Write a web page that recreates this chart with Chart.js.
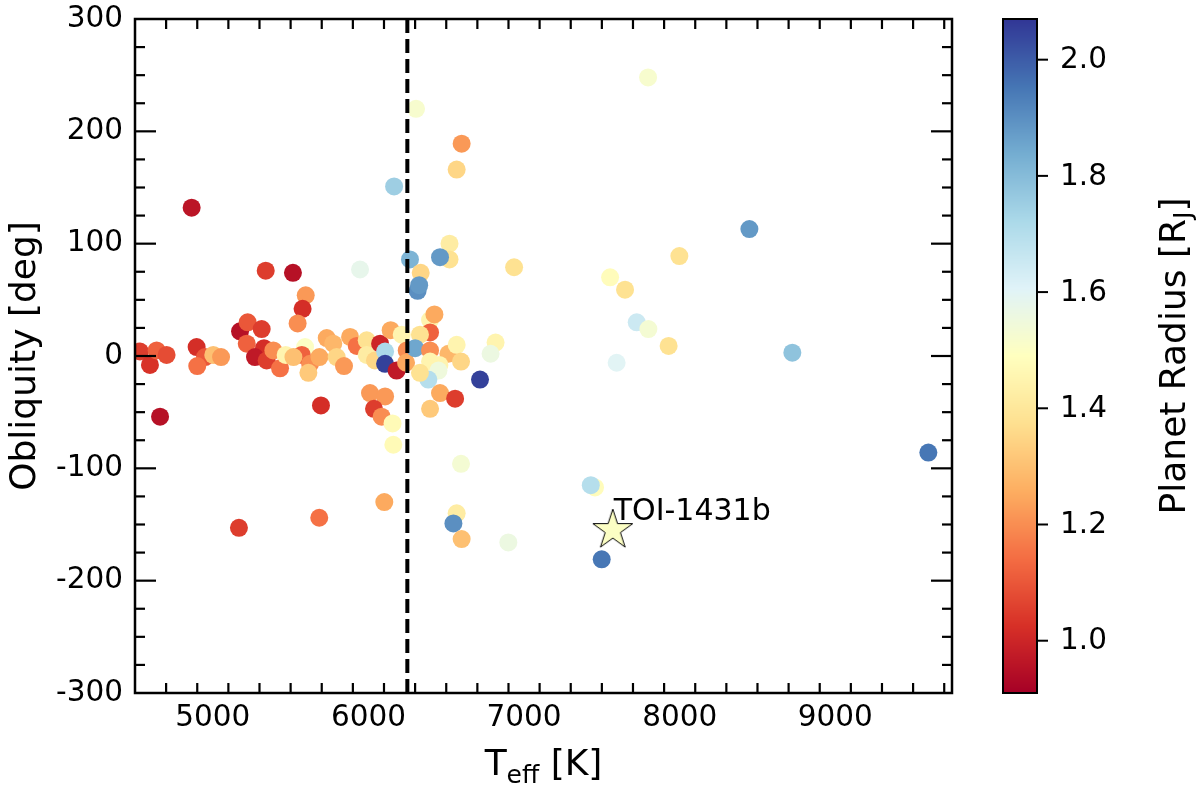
<!DOCTYPE html>
<html>
<head>
<meta charset="utf-8">
<script src="https://cdn.jsdelivr.net/npm/chart.js@4.4.0/dist/chart.umd.min.js"></script>
<style>
  html, body { margin: 0; padding: 0; background: #fff; }
  canvas { display: block; }
</style>
</head>
<body>
<canvas id="obliquityChart" width="1200" height="788"></canvas>
<script>
// stellar effective temperature [K]
const teff = [4532, 4596, 4639, 4703, 4661, 4864, 4896, 4950, 4900, 5003,
  5053, 5168, 5175, 5224, 5314, 5218, 5329, 5271, 5346, 5389,
  5432, 5468, 5593, 5572, 5518, 5625, 5614, 5685, 5732, 5774,
  5796, 5843, 5882, 5925, 5989, 5989, 6042, 6075, 6107, 6107,
  6143, 6181, 6214, 6246, 6242, 5340, 5515, 5946, 5597, 5577,
  5545, 5695, 6010, 6107, 6036, 6085, 6155, 6160, 5684, 6102,
  6165, 6306, 6599, 6567, 6521, 6267, 6521, 6460, 6336, 6316,
  6326, 6936, 6396, 6424, 6396, 6331, 6300, 6396, 6514, 6567,
  6595, 6396, 6456, 6450, 6385, 6331, 6717, 6817, 6785, 6460,
  6557, 6396, 6595, 6567, 6546, 6599, 6899, 7797, 8448, 7998,
  7553, 7649, 7724, 7799, 7929, 7595, 8724, 9598, 7456, 7429,
  7499]
// projected / true obliquity [deg]
const obliquity = [4, -8, 5, 1, -54, 132, 8, -1, -9, 1,
  -1, -153, 22, 30, 24, 11, 7, -1, -4, 5,
  -11, 1, 8, 1, -1, -7, -15, -1, 16, 11,
  -1, -9, 17, 9, 14, 1, -4, 11, 4, -7,
  23, -13, 19, 5, -6, 76, 74, 77, 54, 42,
  29, -44, -33, -36, -47, -54, -60, -79, -144, -130,
  151, 220, 189, 166, 100, 86, 86, 88, 74, 58,
  63, 79, 32, 37, 21, 19, 7, 5, 2, 10,
  -5, -5, -8, -13, -21, -15, -21, 12, 2, -33,
  -38, -47, -96, -140, -149, -163, -166, 248, 113, 89,
  70, 59, 30, 24, 9, -6, 3, -86, -117, -115,
  -181]
// planet radius [R_J]
const radius = [1.05, 1.03, 1.12, 1.08, 0.95, 0.96, 1.02, 1.10, 1.15, 1.30,
  1.22, 1.05, 0.95, 1.10, 1.05, 1.12, 1.02, 0.97, 1.05, 1.20,
  1.15, 1.45, 1.50, 1.12, 1.30, 1.20, 1.32, 1.25, 1.25, 1.28,
  1.35, 1.22, 1.25, 1.15, 1.38, 1.42, 1.35, 1.00, 1.72, 2.05,
  1.25, 0.97, 1.45, 1.20, 1.25, 1.05, 0.95, 1.58, 1.22, 1.02,
  1.20, 1.02, 1.22, 1.22, 1.05, 1.20, 1.47, 1.47, 1.15, 1.25,
  1.75, 1.52, 1.22, 1.35, 1.42, 1.82, 1.38, 1.88, 1.35, 1.90,
  1.88, 1.38, 1.45, 1.25, 1.12, 1.38, 1.85, 1.20, 1.28, 1.45,
  1.35, 1.45, 1.45, 1.55, 1.70, 1.38, 2.05, 1.45, 1.56, 1.25,
  1.05, 1.32, 1.53, 1.42, 1.90, 1.30, 1.56, 1.52, 1.88, 1.38,
  1.48, 1.38, 1.65, 1.53, 1.38, 1.60, 1.78, 1.95, 1.48, 1.70,
  1.95]

// TOI-1431b
const toiTeff = [7570]
const toiObliquity = [-155]
const toiRadius = [1.50]

// Kraft break
const kraftX = [6250, 6250]
const kraftY = [-300, 300]

// axes
const xMin = 4500, xMax = 9750, xMinorStep = 200
const yMin = -300, yMax = 300, yMinorStep = 25
const xMajorTicks = [5000, 6000, 7000, 8000, 9000]
const yMajorTicks = [-300, -200, -100, 0, 100, 200, 300]
const cbMin = 0.91, cbMax = 2.07
const cbTicks = [1.0, 1.2, 1.4, 1.6, 1.8, 2.0]

const FONT = 'DejaVu Sans'
Chart.defaults.font.family = FONT
Chart.defaults.color = '#000'

//RdYlBu colormap
const rdylbu = ['#a50026', '#d73027', '#f46d43', '#fdae61', '#fee090', '#ffffbf',
  '#e0f3f8', '#abd9e9', '#74add1', '#4575b4', '#313695']
const rgbStops = rdylbu.map(h => [1, 3, 5].map(i => parseInt(h.substr(i, 2), 16)))

function cmap(v) {
  let t = (v - cbMin) / (cbMax - cbMin)
  t = Math.min(1, Math.max(0, t)) * (rgbStops.length - 1)
  let i = Math.min(Math.floor(t), rgbStops.length - 2), f = t - i
  let c = rgbStops[i].map((a, k) => Math.round(a + (rgbStops[i + 1][k] - a) * f))
  return `rgb(${c[0]},${c[1]},${c[2]})`
}

//five-pointed star marker for TOI-1431b
function makeStar(fill) {
  const R = 21, r = R * 0.382, size = 48
  const c = document.createElement('canvas')
  c.width = size; c.height = size
  const g = c.getContext('2d')
  g.beginPath()
  for (let k = 0; k < 10; k++) {
    let rad = k % 2 == 0 ? R : r
    let ang = -Math.PI / 2 + k * Math.PI / 5
    let px = size / 2 + rad * Math.cos(ang), py = size / 2 + rad * Math.sin(ang)
    if (k == 0) g.moveTo(px, py)
    else g.lineTo(px, py)
  }
  g.closePath()
  g.fillStyle = fill
  g.fill()
  g.lineWidth = 1
  g.strokeStyle = '#000'
  g.stroke()
  return c
}

//draws text made of pieces (for subscripts)
function drawRich(ctx, parts, x, y, align) {
  let w = 0
  parts.forEach(p => { ctx.font = `${p[1]}px "${FONT}"`; w += ctx.measureText(p[0]).width })
  let cx = align == 'center' ? x - w / 2 : x
  ctx.textAlign = 'left'
  ctx.textBaseline = 'alphabetic'
  parts.forEach(p => {
    ctx.font = `${p[1]}px "${FONT}"`
    ctx.fillText(p[0], cx, y + p[2])
    cx += ctx.measureText(p[0]).width
  })
}

//frame, inward ticks, colorbar and titles
const decorations = {
  id: 'decorations',
  afterDatasetsDraw(chart) {
    const { ctx, chartArea: a, scales } = chart
    const x = scales.x, y = scales.y, cb = scales.cb
    ctx.save()
    ctx.strokeStyle = '#000'
    ctx.fillStyle = '#000'

    const line = (x1, y1, x2, y2, w) => {
      ctx.lineWidth = w
      ctx.beginPath()
      ctx.moveTo(x1, y1)
      ctx.lineTo(x2, y2)
      ctx.stroke()
    }

    //x ticks (bottom and top, pointing inwards)
    for (let v = xMin + xMinorStep; v < xMax; v += xMinorStep) {
      let px = x.getPixelForValue(v)
      let len = xMajorTicks.includes(v) ? 21 : 10
      line(px, a.bottom, px, a.bottom - len, 2.2)
      line(px, a.top, px, a.top + len, 2.2)
    }
    //y ticks (left and right)
    for (let v = yMin + yMinorStep; v < yMax; v += yMinorStep) {
      let py = y.getPixelForValue(v)
      let len = yMajorTicks.includes(v) ? 21 : 10
      line(a.left, py, a.left + len, py, 2.2)
      line(a.right, py, a.right - len, py, 2.2)
    }
    ctx.lineWidth = 2.5
    ctx.strokeRect(a.left, a.top, a.right - a.left, a.bottom - a.top)

    //TOI label
    const starMeta = chart.getDatasetMeta(1).data[0]
    ctx.font = `30px "${FONT}"`
    ctx.textAlign = 'left'
    ctx.textBaseline = 'alphabetic'
    ctx.fillText('TOI-1431b', starMeta.x + 1, starMeta.y - 10)

    //colorbar
    const cbLeft = 1003, cbWidth = 34
    for (let py = Math.floor(cb.top); py < cb.bottom; py++) {
      ctx.fillStyle = cmap(cb.getValueForPixel(py + 0.5))
      ctx.fillRect(cbLeft, py, cbWidth, 1)
    }
    ctx.lineWidth = 2
    ctx.strokeRect(cbLeft, cb.top, cbWidth, cb.bottom - cb.top)
    ctx.fillStyle = '#000'
    ctx.font = `29.5px "${FONT}"`
    ctx.textBaseline = 'middle'
    cbTicks.forEach(v => {
      let py = cb.getPixelForValue(v)
      line(cbLeft + cbWidth, py, cbLeft + cbWidth + 11, py, 2)
      ctx.fillText(v.toFixed(1), 1060, py + 1)
    })

    //axis titles
    drawRich(ctx, [['T', 36, 0], ['eff', 25, 8], [' [K]', 36, 0]], (a.left + a.right) / 2, 775, 'center')

    ctx.save()
    ctx.translate(34.5, (a.top + a.bottom) / 2)
    ctx.rotate(-Math.PI / 2)
    drawRich(ctx, [['Obliquity [deg]', 36, 0]], 0, 0, 'center')
    ctx.restore()

    ctx.save()
    ctx.translate(1185, (cb.top + cb.bottom) / 2)
    ctx.rotate(-Math.PI / 2)
    drawRich(ctx, [['Planet Radius [R', 36, 0], ['J', 25, 6], [']', 36, 0]], 0, 0, 'center')
    ctx.restore()

    ctx.restore()
  }
}

const planetPoints = teff.map((t, i) => ({ x: t, y: obliquity[i] }))
const toiPoints = toiTeff.map((t, i) => ({ x: t, y: toiObliquity[i] }))
const kraftLine = kraftX.map((t, i) => ({ x: t, y: kraftY[i] }))

new Chart(document.getElementById('obliquityChart'), {
  type: 'scatter',
  data: {
    datasets: [
      {
        label: 'Kraft break',
        data: kraftLine,
        showLine: true,
        borderColor: '#000',
        borderWidth: 4,
        borderDash: [14, 6],
        pointRadius: 0,
        order: 0
      },
      {
        label: 'TOI-1431b',
        data: toiPoints,
        pointStyle: makeStar(cmap(toiRadius[0])),
        order: 1
      },
      {
        label: 'Planets',
        data: planetPoints,
        backgroundColor: radius.map(r => cmap(r)),
        borderWidth: 0,
        pointRadius: 9,
        order: 2
      }
    ]
  },
  options: {
    responsive: false,
    animation: false,
    devicePixelRatio: 1,
    events: [],
    layout: { padding: { top: 19, right: 248, bottom: 0, left: 0 } },
    plugins: { legend: { display: false }, tooltip: { enabled: false } },
    scales: {
      x: {
        type: 'linear',
        min: xMin,
        max: xMax,
        afterBuildTicks: s => { s.ticks = xMajorTicks.map(v => ({ value: v })) },
        afterFit: s => { s.height = 95; s.paddingLeft = 0; s.paddingRight = 0 },
        grid: { display: false, drawTicks: false },
        border: { display: false },
        ticks: {
          font: { size: 29.5 },
          color: '#000',
          padding: 8,
          maxRotation: 0,
          autoSkip: false,
          callback: v => String(v)
        }
      },
      y: {
        type: 'linear',
        min: yMin,
        max: yMax,
        afterBuildTicks: s => { s.ticks = yMajorTicks.map(v => ({ value: v })) },
        afterFit: s => { s.width = 135; s.paddingTop = 0; s.paddingBottom = 0 },
        grid: { display: false, drawTicks: false },
        border: { display: false },
        ticks: {
          font: { size: 29.5 },
          color: '#000',
          padding: 12,
          autoSkip: false,
          callback: v => String(v)
        }
      },
      cb: {
        type: 'linear',
        axis: 'y',
        position: 'right',
        display: false,
        min: cbMin,
        max: cbMax
      }
    }
  },
  plugins: [decorations]
})
</script>
</body>
</html>
